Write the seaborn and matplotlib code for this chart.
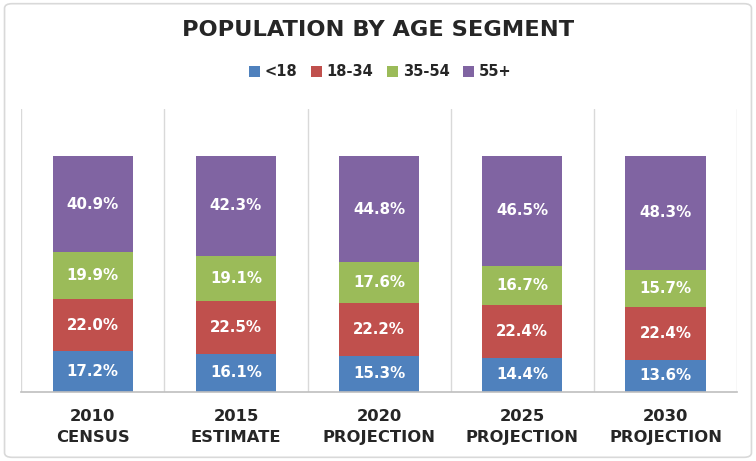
import numpy as np
import pandas as pd
import seaborn as sns
import matplotlib.pyplot as plt
from matplotlib.patches import FancyBboxPatch, Patch

# data
periods = ["2010\nCENSUS", "2015\nESTIMATE", "2020\nPROJECTION", "2025\nPROJECTION", "2030\nPROJECTION"]
segments = ["<18", "18-34", "35-54", "55+"]
under_18 = [17.2, 16.1, 15.3, 14.4, 13.6]
age_18_34 = [22.0, 22.5, 22.2, 22.4, 22.4]
age_35_54 = [19.9, 19.1, 17.6, 16.7, 15.7]
age_55_plus = [40.9, 42.3, 44.8, 46.5, 48.3]
colors = ["#4F81BD", "#C0504D", "#9BBB59", "#8064A2"]

df = pd.DataFrame({"period": periods, "<18": under_18, "18-34": age_18_34,
                   "35-54": age_35_54, "55+": age_55_plus})

# cumulative tops, so the stack can be drawn as overlapping bars
cum = df[segments].cumsum(axis=1)

sns.set_theme(style="white")
plt.rcParams['font.family'] = ['DejaVu Sans']

fig = plt.figure(figsize=(7.56, 4.61), dpi=100)
ax = fig.add_axes([0.028, 0.150, 0.947, 0.614])

# draw the tallest stack first, smaller ones on top
for seg, col in reversed(list(zip(segments, colors))):
    sns.barplot(x=df["period"], y=cum[seg], color=col, width=0.56,
                errorbar=None, saturation=1, ax=ax, linewidth=0)

# white value labels in the middle of each segment
for i in range(len(periods)):
    bottom = 0
    for seg in segments:
        v = df.loc[i, seg]
        ax.text(i, bottom + v / 2, f"{v:.1f}%", ha="center", va="center",
                color="white", fontsize=10.8, fontweight="bold")
        bottom += v

ax.set_ylim(0, 120)
ax.set_xlim(-0.5, len(periods) - 0.5)
ax.set_yticks([])
ax.set_xlabel("")
ax.set_ylabel("")

# vertical separators between categories
ax.set_xticks(np.arange(-0.5, len(periods)), minor=True)
ax.grid(True, which="minor", axis="x", color="#D9D9D9", linewidth=1)
ax.grid(False, which="major")
ax.tick_params(axis="x", which="both", length=0)
ax.tick_params(axis="x", which="major", pad=12)
for lab in ax.get_xticklabels():
    lab.set_fontweight("bold")
    lab.set_fontsize(11.8)
    lab.set_color("#262626")
    lab.set_linespacing(1.5)

for s in ["top", "left", "right"]:
    ax.spines[s].set_visible(False)
ax.spines["bottom"].set_color("#BFBFBF")
ax.spines["bottom"].set_linewidth(1.2)

fig.text(0.5, 0.935, "POPULATION BY AGE SEGMENT", ha="center", va="center",
         fontsize=16.2, fontweight="bold", color="#262626")

handles = [Patch(facecolor=c, edgecolor="none") for c in colors]
fig.legend(handles, segments, loc="center", bbox_to_anchor=(0.503, 0.844), ncol=4,
           frameon=False, handlelength=0.75, handleheight=0.75, handletextpad=0.3,
           columnspacing=0.95, prop={"weight": "bold", "size": 10.5})

# light rounded frame around the whole chart
fig.patches.append(FancyBboxPatch((0.006, 0.008), 0.988, 0.984,
                                  boxstyle="round,pad=0,rounding_size=0.01",
                                  transform=fig.transFigure, facecolor="none",
                                  edgecolor="#D9D9D9", linewidth=1.2))

fig.savefig("out.png", dpi=100)
